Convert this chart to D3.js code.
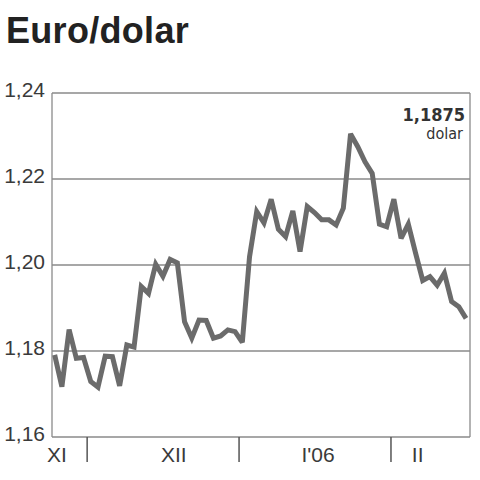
<!DOCTYPE html>
<html>
<head>
<meta charset="utf-8">
<script src="https://cdn.jsdelivr.net/npm/d3@7"></script>
<style>
  html, body { margin: 0; padding: 0; background: #fff; }
  svg { display: block; }
</style>
</head>
<body>
<script>
// ---- data ----
const values = [
  1.1791, 1.1717, 1.1850, 1.1783, 1.1785, 1.1729, 1.1716, 1.1788, 1.1787, 1.1719,
  1.1814, 1.1809, 1.1950, 1.1934, 1.2002, 1.1974, 1.2013, 1.2005, 1.1868, 1.1830,
  1.1872, 1.1871, 1.1830, 1.1835, 1.1849, 1.1845, 1.1820, 1.2019, 1.2124, 1.2098,
  1.2153, 1.2083, 1.2066, 1.2126, 1.2031, 1.2136, 1.2122, 1.2105, 1.2105, 1.2093,
  1.2132, 1.2305, 1.2275, 1.2240, 1.2213, 1.2095, 1.2089, 1.2153, 1.2062, 1.2095,
  1.2028, 1.1964, 1.1973, 1.1953, 1.1981, 1.1915, 1.1903, 1.1876
];
const yTicks = [1.16, 1.18, 1.20, 1.22, 1.24];
const monthLabels = ["XI", "XII", "I'06", "II"];
const monthLabelPos = [0.3, 16.5, 36.5, 50.3];   // in trading-day index units
const monthBreaks = [4.5, 25.55, 46.6];           // index positions of month dividers
const title = "Euro/dolar";
const lastValueText = "1,1875";
const unitText = "dolar";

// ---- layout ----
const W = 480, H = 480;
const x0 = 52, x1 = 470, yTop = 93, yBot = 437;

const svg = d3.select("body").append("svg").attr("width", W).attr("height", H);

const x = d3.scaleLinear().domain([-0.37, 57.55]).range([x0, x1]);
const y = d3.scaleLinear().domain([1.16, 1.24]).range([yBot, yTop]);

const fmt = v => d3.format(".2f")(v).replace(".", ",");
const font = "'Liberation Sans', Arial, sans-serif";

// title
svg.append("text")
  .attr("x", 6).attr("y", 43)
  .attr("font-family", font).attr("font-weight", "bold")
  .attr("font-size", 36).attr("letter-spacing", 0.3).attr("fill", "#222")
  .text(title);

// grid lines
svg.append("g").selectAll("line").data(yTicks).join("line")
  .attr("x1", x0).attr("x2", x1)
  .attr("y1", d => y(d)).attr("y2", d => y(d))
  .attr("stroke", "#8a8a8a").attr("stroke-width", 1.3);

// y labels
svg.append("g").selectAll("text").data(yTicks).join("text")
  .attr("x", 45).attr("y", d => y(d) + 4)
  .attr("text-anchor", "end")
  .attr("font-family", font).attr("font-size", 21).attr("fill", "#3a3a3a")
  .text(fmt);

// frame left/right
svg.append("line").attr("x1", x0).attr("x2", x0).attr("y1", yTop).attr("y2", yBot)
  .attr("stroke", "#8a8a8a").attr("stroke-width", 1.3);
svg.append("line").attr("x1", x1).attr("x2", x1).attr("y1", yTop).attr("y2", yBot)
  .attr("stroke", "#8a8a8a").attr("stroke-width", 1.3);

// month dividers
svg.append("g").selectAll("line").data(monthBreaks).join("line")
  .attr("x1", d => x(d)).attr("x2", d => x(d))
  .attr("y1", yBot).attr("y2", 462)
  .attr("stroke", "#555").attr("stroke-width", 1.5);

// month labels
svg.append("g").selectAll("text").data(monthLabels).join("text")
  .attr("x", (d, i) => x(monthLabelPos[i])).attr("y", 462)
  .attr("text-anchor", "middle")
  .attr("font-family", font).attr("font-size", 21).attr("fill", "#3a3a3a")
  .text(d => d);

// line
const line = d3.line().x((d, i) => x(i)).y(d => y(d));
svg.append("path").datum(values)
  .attr("d", line)
  .attr("fill", "none")
  .attr("stroke", "#6b6b6b")
  .attr("stroke-width", 5)
  .attr("stroke-linejoin", "miter")
  .attr("stroke-miterlimit", 3);

// annotation
svg.append("text")
  .attr("x", 465).attr("y", 121)
  .attr("text-anchor", "end")
  .attr("font-family", "'DejaVu Sans Condensed', 'DejaVu Sans', sans-serif")
  .attr("font-weight", "bold")
  .attr("font-size", 18).attr("fill", "#333")
  .text(lastValueText);
svg.append("text")
  .attr("x", 463).attr("y", 139)
  .attr("text-anchor", "end")
  .attr("font-family", "'DejaVu Sans Condensed', 'DejaVu Sans', sans-serif")
  .attr("font-size", 16).attr("fill", "#333")
  .text(unitText);
</script>
</body>
</html>
